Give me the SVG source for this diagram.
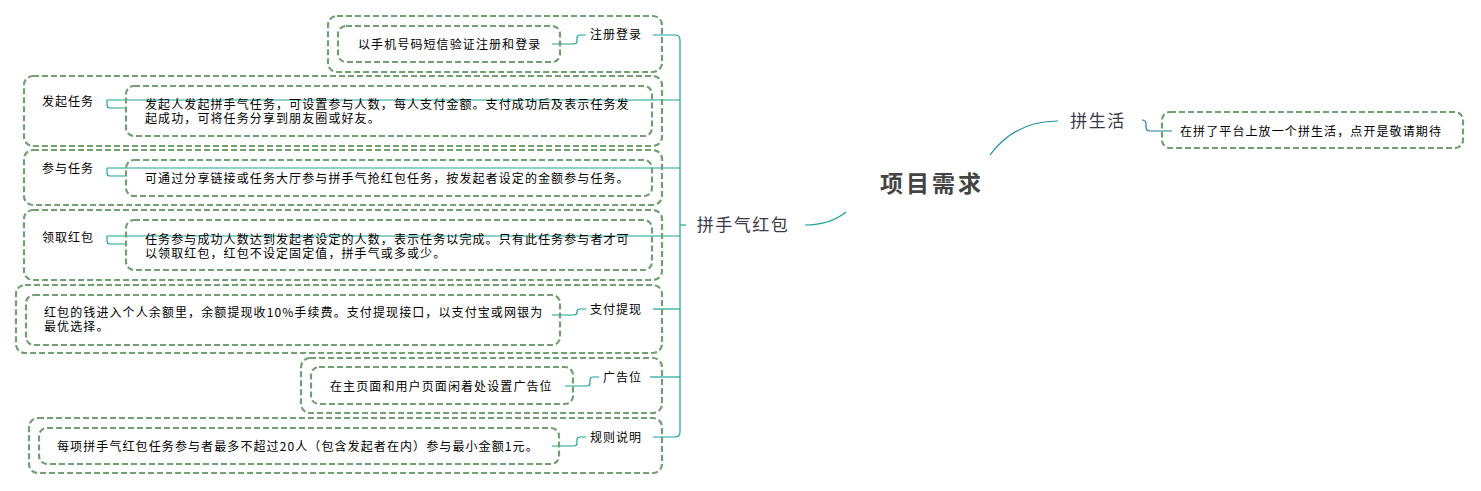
<svg xmlns="http://www.w3.org/2000/svg" width="1481" height="491" viewBox="0 0 1481 491">
<style>
.box{fill:none;stroke:#72a072;stroke-width:2.2;stroke-dasharray:6 3}
.t{font-family:"Noto Sans CJK SC","Liberation Sans",sans-serif;font-size:12px;letter-spacing:1.1px;fill:#000}
.lab{font-family:"Noto Sans CJK SC","Liberation Sans",sans-serif;font-size:12px;letter-spacing:1px;fill:#000}
.mid{font-family:"Noto Sans CJK SC","Liberation Sans",sans-serif;font-size:17px;letter-spacing:1.5px;fill:#3a3a48}
.root{font-family:"Noto Sans CJK SC","Liberation Sans",sans-serif;font-size:23px;font-weight:700;letter-spacing:3px;fill:#444}
.c{fill:none;stroke:#1aa596;stroke-width:1.2}
</style>
<rect width="1481" height="491" fill="#fff"/>
<g id="connectors">
<path class="c" d="M653,35 H675 Q680,35 680,40 V432 Q680,437 675,437 H653"/>
<path class="c" d="M653,309 H680"/>
<path class="c" d="M650,377 H680"/>
<path class="c" d="M107,100 H680"/>
<path class="c" d="M107,168 H680"/>
<path class="c" d="M107,236 H680"/>
<path class="c" d="M680,225 H686"/>
<path class="c" d="M552,44 H574 Q577,44 577,41 V38 Q577,35 580,35 H586"/>
<path class="c" d="M107,100 V105 Q107,108 110,108 H125"/>
<path class="c" d="M107,168 V173 Q107,176 110,176 H125"/>
<path class="c" d="M107,236 V241 Q107,244 110,244 H125"/>
<path class="c" d="M552,315 H574 Q577,315 577,312 V312 Q577,309 580,309 H586"/>
<path class="c" d="M565,386 H587 Q590,386 590,383 V380 Q590,377 593,377 H599"/>
<path class="c" d="M552,446 H574 Q577,446 577,443 V440 Q577,437 580,437 H586"/>
<path class="c" d="M846,212 Q830,225 805,225"/>
<path fill="none" stroke="#1e8fa8" stroke-width="1.2" d="M990,155 Q1015,121 1058,121"/>
<path fill="none" stroke="#1e7f98" stroke-width="1.2" d="M1142,120 Q1146,120 1146,124 V127 Q1146,131 1150,131 H1172"/>
</g>
<g id="root"><text class="root" x="932" y="192" text-anchor="middle">项目需求</text></g>
<g id="pinshouqi"><text class="mid" x="743" y="231" text-anchor="middle">拼手气红包</text></g>
<g id="pinshenghuo">
<text class="mid" x="1098" y="127" text-anchor="middle">拼生活</text>
</g>
<g id="pinshenghuo-detail">
<rect class="box" x="1162" y="112" width="301" height="36" rx="8"/>
<text class="t" x="1180" y="135.5">在拼了平台上放一个拼生活，点开是敬请期待</text>
</g>
<g id="zhuce">
<rect class="box" x="328" y="16" width="334" height="56" rx="9"/>
<rect class="box" x="338" y="26" width="222" height="36" rx="8"/>
<text class="t" x="358" y="48.5">以手机号码短信验证注册和登录</text>
<text class="lab" x="590" y="38.5">注册登录</text>
</g>
<g id="faqi">
<rect class="box" x="24" y="76" width="638" height="70" rx="9"/>
<rect class="box" x="126" y="86" width="526" height="50" rx="8"/>
<text class="lab" x="42" y="105.5">发起任务</text>
<text class="t" x="145" y="108.5">发起人发起拼手气任务，可设置参与人数，每人支付金额。支付成功后及表示任务发<tspan x="145" dy="14">起成功，可将任务分享到朋友圈或好友。</tspan></text>
</g>
<g id="canyu">
<rect class="box" x="24" y="150" width="638" height="55" rx="9"/>
<rect class="box" x="126" y="160" width="526" height="36" rx="8"/>
<text class="lab" x="42" y="172.5">参与任务</text>
<text class="t" x="145" y="182.5">可通过分享链接或任务大厅参与拼手气抢红包任务，按发起者设定的金额参与任务。</text>
</g>
<g id="lingqu">
<rect class="box" x="24" y="210" width="638" height="70" rx="9"/>
<rect class="box" x="126" y="220" width="526" height="50" rx="8"/>
<text class="lab" x="42" y="241.5">领取红包</text>
<text class="t" x="145" y="243.5">任务参与成功人数达到发起者设定的人数，表示任务以完成。只有此任务参与者才可<tspan x="145" dy="14">以领取红包，红包不设定固定值，拼手气或多或少。</tspan></text>
</g>
<g id="zhifu">
<rect class="box" x="16" y="285" width="646" height="68" rx="9"/>
<rect class="box" x="26" y="295" width="534" height="50" rx="8"/>
<text class="t" x="44" y="316.5">红包的钱进入个人余额里，余额提现收10%手续费。支付提现接口，以支付宝或网银为<tspan x="44" dy="14">最优选择。</tspan></text>
<text class="lab" x="590" y="313.5">支付提现</text>
</g>
<g id="guanggao">
<rect class="box" x="301" y="358" width="361" height="55" rx="9"/>
<rect class="box" x="311" y="367" width="262" height="37" rx="8"/>
<text class="t" x="330" y="390.5">在主页面和用户页面闲着处设置广告位</text>
<text class="lab" x="603" y="381.5">广告位</text>
</g>
<g id="guize">
<rect class="box" x="29" y="418" width="633" height="55" rx="9"/>
<rect class="box" x="39" y="428" width="520" height="36" rx="8"/>
<text class="t" x="57" y="450.5">每项拼手气红包任务参与者最多不超过20人（包含发起者在内）参与最小金额1元。</text>
<text class="lab" x="590" y="441.5">规则说明</text>
</g>
</svg>
